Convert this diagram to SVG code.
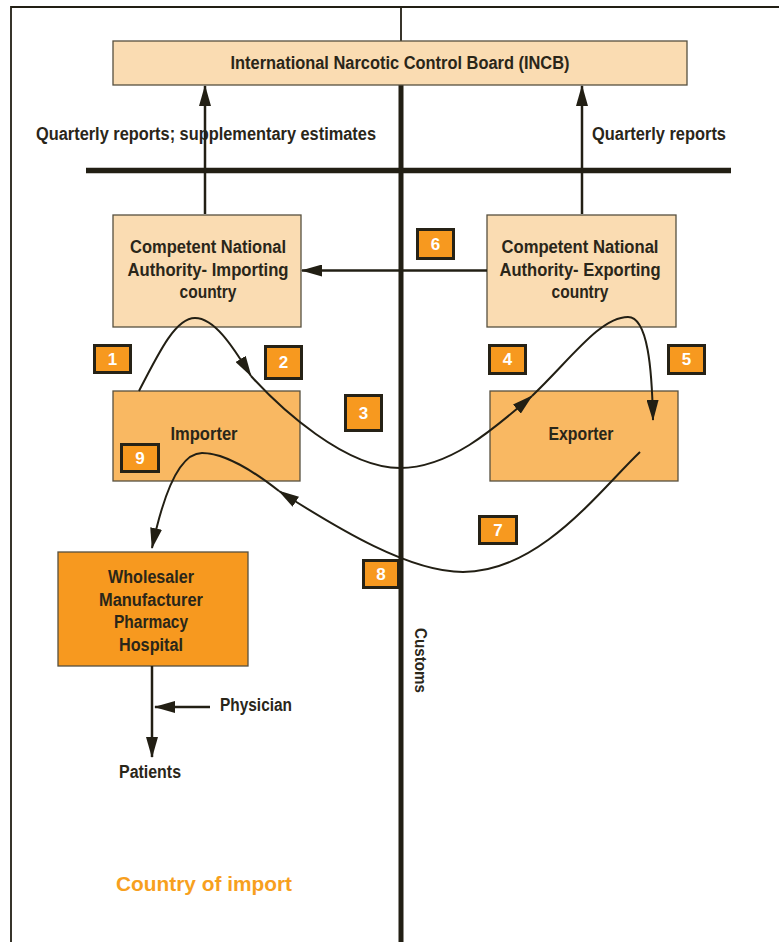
<svg xmlns="http://www.w3.org/2000/svg" width="779" height="942" viewBox="0 0 779 942">
<style>
text{font-family:"Liberation Sans",Arial,sans-serif;font-weight:bold;fill:#2a2619;font-size:17.5px}
.c{text-anchor:middle}
.box{stroke:#57503f;stroke-width:1.3}
.lt{fill:#fadcb2}
.md{fill:#f9b862}
.dk{fill:#f7991f}
.badge rect{fill:#f7991f;stroke:#262216;stroke-width:3}
.badge text{fill:#ffffff;font-size:17px;text-anchor:middle}
.ln{fill:none;stroke:#221f14}
.cv{fill:none;stroke:#221f14;stroke-width:2;marker-end:url(#ah)}
.ar{fill:none;stroke:#221f14;stroke-width:2.5;marker-end:url(#ah)}
</style>
<defs>
<marker id="ah" markerUnits="userSpaceOnUse" markerWidth="21" markerHeight="12" viewBox="0 0 21 12" refX="20" refY="6" orient="auto">
<path d="M0,0 L21,6 L0,12 z" fill="#221f14"/>
</marker>
</defs>
<rect width="779" height="942" fill="#ffffff"/>
<g id="frame">
<path class="ln" d="M11,942 V7 H779" stroke-width="1.8"/>
<path class="ln" d="M401,7 V41" stroke-width="1.8"/>
<path class="ln" d="M401,85 V942" stroke-width="5"/>
<path class="ln" d="M86,170.5 H731" stroke-width="5.5"/>
</g>
<g id="incb">
<rect class="box lt" x="113" y="41" width="574" height="44"/>
<text class="c" x="400" y="69" textLength="339" lengthAdjust="spacingAndGlyphs">International Narcotic Control Board (INCB)</text>
</g>
<g id="cna-import">
<rect class="box lt" x="113" y="215" width="188" height="112"/>
<text class="c" x="208" y="253" textLength="156" lengthAdjust="spacingAndGlyphs">Competent National</text>
<text class="c" x="208" y="276" textLength="161" lengthAdjust="spacingAndGlyphs">Authority- Importing</text>
<text class="c" x="208" y="298" textLength="57" lengthAdjust="spacingAndGlyphs">country</text>
</g>
<g id="cna-export">
<rect class="box lt" x="487" y="215" width="189" height="112"/>
<text class="c" x="580" y="253" textLength="157" lengthAdjust="spacingAndGlyphs">Competent National</text>
<text class="c" x="580" y="276" textLength="161" lengthAdjust="spacingAndGlyphs">Authority- Exporting</text>
<text class="c" x="580" y="298" textLength="57" lengthAdjust="spacingAndGlyphs">country</text>
</g>
<g id="importer">
<rect class="box md" x="113" y="391" width="187" height="90"/>
<text class="c" x="204" y="440" textLength="67" lengthAdjust="spacingAndGlyphs">Importer</text>
</g>
<g id="exporter">
<rect class="box md" x="490" y="391" width="188" height="90"/>
<text class="c" x="581" y="440" textLength="65" lengthAdjust="spacingAndGlyphs">Exporter</text>
</g>
<g id="distributors">
<rect class="box dk" x="58" y="552" width="190" height="114"/>
<text class="c" x="151" y="583" textLength="86" lengthAdjust="spacingAndGlyphs">Wholesaler</text>
<text class="c" x="151" y="606" textLength="104" lengthAdjust="spacingAndGlyphs">Manufacturer</text>
<text class="c" x="151" y="628" textLength="74" lengthAdjust="spacingAndGlyphs">Pharmacy</text>
<text class="c" x="151" y="651" textLength="64" lengthAdjust="spacingAndGlyphs">Hospital</text>
</g>
<g id="physician">
<text x="220" y="711" textLength="72" lengthAdjust="spacingAndGlyphs">Physician</text>
</g>
<g id="patients">
<text class="c" x="150" y="778" textLength="62" lengthAdjust="spacingAndGlyphs">Patients</text>
</g>
<g id="labels">
<text x="36" y="140" textLength="340" lengthAdjust="spacingAndGlyphs">Quarterly reports; supplementary estimates</text>
<text x="592" y="140" textLength="134" lengthAdjust="spacingAndGlyphs">Quarterly reports</text>
<text transform="translate(415,628) rotate(90)" x="0" y="0" style="font-size:16.5px" textLength="65" lengthAdjust="spacingAndGlyphs">Customs</text>
<text class="c" x="204" y="891" style="fill:#f7a01e;font-size:21px" textLength="176" lengthAdjust="spacingAndGlyphs">Country of import</text>
</g>
<g id="connectors">
<path class="ar" d="M205,214 V86"/>
<path class="ar" d="M582,214 V86"/>
<path class="ar" d="M487,270.5 H302"/>
<path class="ar" d="M152,666 V757"/>
<path class="ar" d="M210,707 H155"/>
<path class="cv" d="M139,391 C160,350 176,318 195,318 C214,318 232,345 251,376"/>
<path class="cv" d="M251,376 C280,408 345,468 400,468 C450,468 495,428 532,396"/>
<path class="cv" d="M532,396 C570,360 600,317 628,317 C648,317 652,370 653,420"/>
<path class="cv" d="M640,452 C600,490 540,572 463,572 C410,572 340,530 279,491"/>
<path class="cv" d="M279,491 C252,470 225,453 202,453 C175,453 160,510 152,548"/>
</g>
<g id="badge-1" class="badge"><rect x="94.5" y="345.5" width="36" height="27"/><text x="112.5" y="365">1</text></g>
<g id="badge-2" class="badge"><rect x="265.5" y="346.5" width="36" height="32"/><text x="283.5" y="368">2</text></g>
<g id="badge-3" class="badge"><rect x="345.5" y="395.5" width="36" height="35"/><text x="363.5" y="419">3</text></g>
<g id="badge-4" class="badge"><rect x="489.5" y="345.5" width="36" height="28"/><text x="507.5" y="365">4</text></g>
<g id="badge-5" class="badge"><rect x="668.5" y="345.5" width="36" height="28"/><text x="686.5" y="365">5</text></g>
<g id="badge-6" class="badge"><rect x="417.5" y="229.5" width="36" height="29"/><text x="435.5" y="250">6</text></g>
<g id="badge-7" class="badge"><rect x="479.5" y="516.5" width="37" height="27"/><text x="498" y="536">7</text></g>
<g id="badge-8" class="badge"><rect x="363.5" y="560.5" width="35" height="27"/><text x="381" y="580">8</text></g>
<g id="badge-9" class="badge"><rect x="121.5" y="444.5" width="37" height="27"/><text x="140" y="464">9</text></g>
</svg>
